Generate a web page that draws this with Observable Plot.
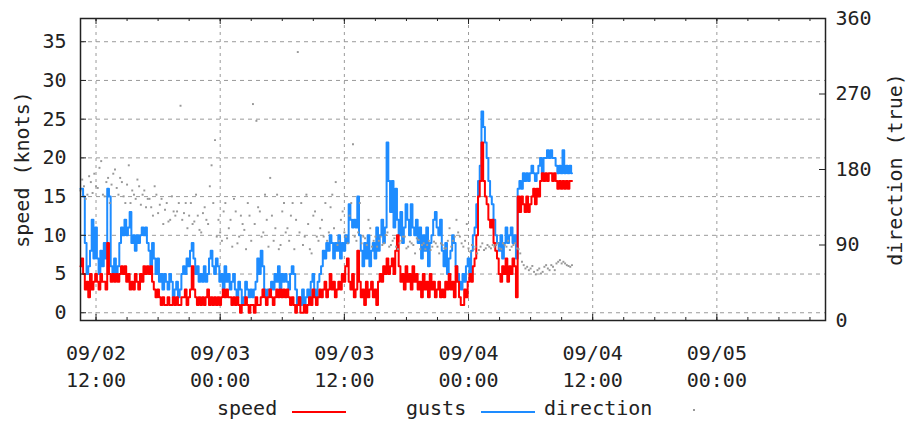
<!DOCTYPE html>
<html><head><meta charset="utf-8">
<script src="https://cdn.jsdelivr.net/npm/d3@7"></script>
<script src="https://cdn.jsdelivr.net/npm/@observablehq/plot@0.6"></script>
<style>
body{margin:0;background:#fff;font-family:"DejaVu Sans Mono",monospace;}
#chart svg{display:block;}
#legend{position:relative;width:908px;height:32px;font-size:20px;color:#222;}
#legend .t{position:absolute;top:6px;line-height:20px;white-space:pre;}
#legend .l{position:absolute;height:2px;top:19px;}
#legend .d{position:absolute;width:2px;height:2px;background:#999;top:17px;}
</style></head><body>
<div id="chart"></div>
<div id="legend"></div>
<script>
// 10-minute samples starting 09/02 10:30
const startTime = "2014-09-02T10:30:00Z";
const stepMinutes = 10;
const speed = [
 6,7,5,3,4,2,5,3,4,5,
 4,3,5,4,4,3,9,5,4,5,
 4,5,4,5,6,5,6,4,5,3,
 4,3,5,4,3,5,4,6,5,6,
 5,6,4,3,2,3,2,1,2,1,
 1,2,1,1,2,1,2,1,1,2,
 2,3,1,2,3,6,3,2,1,2,
 1,2,1,2,3,1,2,1,2,1,
 2,1,2,3,2,3,2,2,1,2,
 1,2,1,0,1,1,2,1,0,1,
 1,0,2,1,1,2,3,2,1,2,
 3,2,1,2,3,2,3,2,3,2,
 3,2,1,2,1,0,1,2,0,0,
 1,0,1,2,1,3,2,1,2,3,
 2,3,4,2,3,5,3,4,2,3,
 4,3,5,4,6,7,4,3,5,2,
 3,8,4,2,3,1,4,2,3,4,
 2,3,1,4,5,4,6,5,7,5,
 6,7,5,8,10,6,4,5,3,6,
 4,5,3,6,4,5,3,4,2,5,
 3,4,2,5,3,4,2,3,4,2,
 3,2,4,3,5,3,4,2,6,4,
 2,1,1,3,2,4,5,4,6,7,
 10,15,17,22,17,15,14,12,11,12,
 9,8,7,5,4,6,5,7,4,6,
 5,7,6,2,15,13,15,14,13,15,
 13,14,15,16,14,16,15,17,18,17,
 18,17,18,18,17,18,17,16,17,16,
 17,16,17,16,17,17];
const gusts = [
 16,16,15,9,5,6,8,12,7,11,
 7,5,8,6,9,7,16,15,6,5,
 7,5,6,9,11,10,12,10,11,13,
 9,10,8,10,9,10,11,10,11,9,
 8,6,9,7,5,7,4,5,3,5,
 4,3,5,4,2,3,4,2,3,5,
 6,5,7,6,8,9,7,5,6,4,
 5,4,6,4,5,7,8,6,5,7,
 6,4,5,3,6,4,5,3,4,5,
 3,2,4,3,1,2,4,3,2,3,
 2,3,4,7,5,8,6,3,2,3,
 3,4,3,5,4,6,3,5,4,5,
 4,3,5,6,5,3,1,2,1,3,
 1,2,3,2,4,5,3,2,4,5,
 6,8,7,9,8,10,9,7,9,8,
 10,7,9,8,10,9,14,12,11,12,
 11,15,10,8,6,9,7,10,6,8,
 9,7,11,8,10,12,9,11,22,17,
 13,17,11,16,12,10,13,9,11,14,
 12,10,14,11,10,12,9,11,7,10,
 8,11,6,9,10,12,13,11,10,12,
 8,6,9,5,7,8,10,9,6,5,
 4,3,5,4,6,7,5,8,10,11,
 14,17,19,26,24,22,20,17,15,14,
 12,10,9,8,10,7,9,11,9,10,
 11,9,10,7,16,17,16,18,17,18,
 17,18,19,18,17,18,19,20,18,20,
 20,21,20,21,20,20,19,18,19,18,
 21,18,19,18,19,18];
const direction = [
 155,168,160,145,150,172,165,152,175,160,
 158,182,190,150,148,165,170,140,162,175,
 180,158,150,170,165,148,140,162,185,140,
 155,150,145,168,160,138,150,155,135,145,
 145,135,125,160,150,128,138,145,115,132,
 140,118,120,148,130,125,130,140,256,120,
 128,140,110,125,140,115,118,150,125,108,
 105,128,135,120,115,160,185,140,215,100,
 120,105,95,130,140,98,110,120,88,145,
 130,92,100,125,115,108,85,140,125,95,
 258,115,238,135,130,100,105,150,120,88,
 170,125,95,110,150,85,90,130,140,105,
 110,95,125,140,85,120,320,105,140,90,
 100,150,115,85,80,125,130,100,95,110,
 120,100,140,95,105,135,150,110,165,90,
 95,120,130,105,100,92,125,140,210,100,
 95,105,140,92,100,98,90,120,110,88,
 95,100,88,95,100,90,92,102,105,88,
 90,95,98,88,85,92,95,100,100,86,
 88,94,92,90,80,98,96,85,90,92,
 85,90,95,84,88,94,92,88,80,92,
 90,86,86,95,110,88,95,100,120,105,
 100,92,88,95,115,86,82,90,85,88,
 80,84,88,92,84,86,90,88,86,90,
 88,90,92,86,85,92,90,88,95,84,
 88,90,92,86,85,80,70,66,62,64,
 60,62,65,58,55,60,62,56,58,64,
 66,62,60,66,64,60,68,70,72,68,
 70,68,66,65,64,66];
const speedTicks = [0,5,10,15,20,25,30,35];
const dirTicks = [0,90,180,270,360];
const timeTicks = ["2014-09-02T12:00Z","2014-09-03T00:00Z","2014-09-03T12:00Z","2014-09-04T00:00Z","2014-09-04T12:00Z","2014-09-05T00:00Z"];
const legendItems = ["speed","gusts","direction"];

const t0 = new Date(startTime);
const t1 = new Date(+t0 + 72*3600e3);
const rows = speed.map((s,i)=>({t:new Date(+t0 + i*stepMinutes*60e3), speed:s, gusts:gusts[i], dir:direction[i]}));
const yMin = -1, yMax = 38;
const dirToY = d => yMin + d*(yMax-yMin)/360;
const yToDir = v => Math.round((v-yMin)*360/(yMax-yMin));
const majorX = timeTicks.map(s=>new Date(s));
const minorX = d3.utcHour.every(3).range(t0, t1);
const fmt = d3.utcFormat("%m/%d\n%H:%M");
const W=908,H=392,mL=80,mR=83,mT=18,mB=72;
const iw=W-mL-mR, ih=H-mT-mB;

const plot = Plot.plot({
  width:W, height:H, marginLeft:mL, marginRight:mR, marginTop:mT, marginBottom:mB,
  style:{fontFamily:"DejaVu Sans Mono, monospace", fontSize:"20px", color:"#222", background:"#fff"},
  x:{type:"utc", domain:[t0,t1]},
  y:{domain:[yMin,yMax]},
  marks:[
    Plot.gridY(speedTicks,{stroke:"#9a9a9a",strokeOpacity:1,strokeDasharray:"4,4"}),
    Plot.gridX(majorX,{stroke:"#9a9a9a",strokeOpacity:1,strokeDasharray:"3,4"}),
    Plot.line(rows,{x:"t",y:"gusts",stroke:"#1e8cff",strokeWidth:2,curve:"step"}),
    Plot.line(rows,{x:"t",y:"speed",stroke:"#ff0000",strokeWidth:2,curve:"step"}),
    Plot.dot(rows,{x:"t",y:d=>dirToY(d.dir),symbol:"square",r:1.1,fill:"#989898",stroke:null}),
    Plot.ruleY(speedTicks,{stroke:"#222",insetRight:iw-6}),
    Plot.ruleY(dirTicks.map(dirToY),{stroke:"#222",insetLeft:iw-6}),
    Plot.ruleX(majorX,{stroke:"#222",insetTop:ih-6}),
    Plot.ruleX(majorX,{stroke:"#222",insetBottom:ih-6}),
    Plot.ruleX(minorX,{stroke:"#222",insetTop:ih-3}),
    Plot.ruleX(minorX,{stroke:"#222",insetBottom:ih-3}),
    Plot.frame({stroke:"#222",strokeWidth:1.5}),
    Plot.axisY(speedTicks,{anchor:"left",tickSize:0,tickPadding:14,fontSize:20,
      label:"speed (knots)",labelAnchor:"center",labelArrow:"none",labelOffset:66}),
    Plot.axisY(dirTicks.map(dirToY),{anchor:"right",tickSize:0,tickPadding:10,fontSize:20,
      tickFormat:yToDir,label:"direction (true)",labelAnchor:"center",labelArrow:"none",labelOffset:76}),
    Plot.axisX(majorX,{anchor:"bottom",tickSize:0,tickPadding:20,fontSize:20,lineHeight:1.35,
      tickFormat:fmt,label:null})
  ]
});
document.getElementById("chart").append(plot);

// legend below the chart
const lg = document.getElementById("legend");
const colors = ["#ff0000","#1e8cff",null];
const textRight = [277,466,652];
legendItems.forEach((name,i)=>{
  const t = document.createElement("span");
  t.className="t"; t.textContent=name;
  t.style.left=(textRight[i]-name.length*12)+"px";
  lg.append(t);
  if(colors[i]){
    const l=document.createElement("span");
    l.className="l"; l.style.left=(textRight[i]+15)+"px"; l.style.width="54px"; l.style.background=colors[i];
    lg.append(l);
  } else {
    const d=document.createElement("span");
    d.className="d"; d.style.left=(textRight[i]+41)+"px";
    lg.append(d);
  }
});
</script>
</body></html>
